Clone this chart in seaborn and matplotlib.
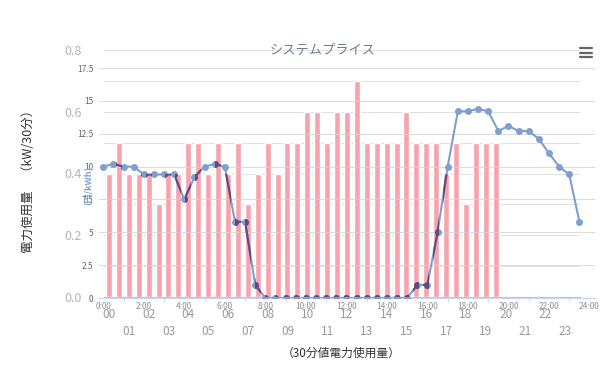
"""
System price vs. 30-min power usage (overlay chart)
"""

import numpy as np
import matplotlib
matplotlib.use("Agg")
import matplotlib.pyplot as plt
from matplotlib.path import Path
from matplotlib.lines import Line2D
import seaborn as sns

sns.set_style("white")
plt.rcParams['font.family'] = ['Noto Sans CJK JP', 'DejaVu Sans']

# Data
# power usage per 30-min slot (kW/30min), slots 0..39 (00:00 - 19:30)
usage_slots = np.arange(40)
usage = [0.4, 0.5, 0.4, 0.4, 0.4, 0.3, 0.4, 0.4, 0.5, 0.5,
         0.4, 0.5, 0.4, 0.5, 0.3, 0.4, 0.5, 0.4, 0.5, 0.5,
         0.6, 0.6, 0.5, 0.6, 0.6, 0.7, 0.5, 0.5, 0.5, 0.5,
         0.6, 0.5, 0.5, 0.5, 0.4, 0.5, 0.3, 0.5, 0.5, 0.5]

# system price (yen/kWh) every 30 min
price_hours = np.arange(48) * 0.5
price = [10.0, 10.2, 10.0, 10.0, 9.4, 9.4, 9.4, 9.4, 7.5, 9.2,
         10.0, 10.2, 10.0, 5.8, 5.8, 1.0, 0.0, 0.0, 0.0, 0.0,
         0.0, 0.0, 0.0, 0.0, 0.0, 0.0, 0.0, 0.0, 0.0, 0.0,
         0.0, 1.0, 1.0, 5.0, 10.0, 14.2, 14.2, 14.4, 14.2, 12.7,
         13.1, 12.7, 12.7, 12.1, 11.0, 10.0, 9.4, 5.8]

hour_labels = [f"{h:02d}" if h % 2 == 0 else f"\n{h:02d}" for h in range(24)]
time_labels = [f"{h}:00" for h in range(0, 25, 2)]
usage_ticks = [0.0, 0.2, 0.4, 0.6, 0.8]
price_ticks = [0, 2.5, 5, 7.5, 10, 12.5, 15, 17.5]
price_tick_labels = ["0", "2.5", "5", "7.5", "10", "12.5", "15", "17.5"]

PINK = "#F7A3AE"
BLUE = "#7F9FCF"
PURPLE = "#644879"

fig = plt.figure(figsize=(6.01, 3.71), dpi=100)

# Bar chart (usage)
ax_bar = fig.add_axes([104 / 601, 74 / 371, 476 / 601, 247 / 371])
sns.barplot(x=usage_slots, y=usage, color=PINK, saturation=1, width=0.6,
            ax=ax_bar, zorder=2)
ax_bar.set_xlim(-0.5, 47.5)
ax_bar.set_ylim(0, 0.8)
ax_bar.set_yticks(usage_ticks)
ax_bar.set_yticklabels([f"{v:.1f}" for v in usage_ticks])
ax_bar.set_yticks(np.arange(0, 0.81, 0.1), minor=True)
ax_bar.yaxis.grid(True, which='both', color='#e2e2e2', linewidth=0.8, zorder=0)
ax_bar.set_axisbelow(True)
ax_bar.set_xticks(range(0, 48, 2))
ax_bar.set_xticklabels(hour_labels)
for lbl in ax_bar.get_xticklabels():
    lbl.set_linespacing(1.35)
ax_bar.tick_params(axis='x', length=0, pad=8, labelsize=8.5, labelcolor='#9a9a9a')
ax_bar.tick_params(axis='y', which='both', length=0, pad=16, labelsize=9,
                   labelcolor='#b5b5b5')
ax_bar.set_xlabel("")
ax_bar.set_ylabel("")
for s in ['top', 'right', 'left']:
    ax_bar.spines[s].set_visible(False)
ax_bar.spines['bottom'].set_color('#c4c4c4')

# Line chart (system price)
ax_line = fig.add_axes([99 / 601, 73 / 371, 496 / 601, 230 / 371])
ax_line.patch.set_alpha(0)
sns.lineplot(x=price_hours, y=price, ax=ax_line, color=BLUE, linewidth=1.5,
             marker='o', markersize=5, markeredgewidth=0, zorder=3)
overlay, = ax_line.plot(price_hours, price, color=PURPLE, linewidth=1.5,
                        marker='o', markersize=5, markeredgewidth=0, zorder=4)
rects = [p.get_path().transformed(p.get_patch_transform()) for p in ax_bar.patches]
overlay.set_clip_path(Path.make_compound_path(*rects), ax_bar.transData)

ax_line.set_xlim(-0.21, 24.27)
ax_line.set_ylim(0, 17.5)
ax_line.set_yticks(price_ticks)
ax_line.set_yticklabels(price_tick_labels)
ax_line.yaxis.grid(True, color='#d4d4d4', linewidth=0.8, alpha=0.8)
ax_line.set_xticks(range(0, 25, 2))
ax_line.set_xticklabels(time_labels)
ax_line.set_xticks(range(0, 25), minor=True)
ax_line.tick_params(axis='x', which='major', length=0, pad=3, labelsize=6,
                    labelcolor='#8f8f8f')
ax_line.tick_params(axis='x', which='minor', length=3, color='#ccd6eb',
                    direction='out', bottom=True)
ax_line.tick_params(axis='y', length=0, pad=4, labelsize=6, labelcolor='#666666')
ax_line.set_xlabel("")
ax_line.set_ylabel("")
for s in ['top', 'right', 'left']:
    ax_line.spines[s].set_visible(False)
ax_line.spines['bottom'].set_color('#ccd6eb')

# Texts
fig.text(323 / 601, 1 - 50 / 371, "システムプライス", ha='center', va='center',
         fontsize=9.5, color='#6f7f8f')
fig.text(28 / 601, 1 - 178 / 371, "電力使用量　（kW/30分）", rotation=90,
         ha='center', va='center', fontsize=9, color='#333333')
fig.text(89 / 601, 1 - 185 / 371, "(円/kWh)", rotation=90, ha='center',
         va='center', fontsize=6.5, color=BLUE, fontweight='bold')
fig.text(341 / 601, 1 - 353 / 371, "（30分値電力使用量）", ha='center',
         va='center', fontsize=8.5, color='#333333')

# menu icon
for yy in (48, 52.5, 57):
    fig.add_artist(Line2D([580 / 601, 592 / 601], [1 - yy / 371] * 2,
                          color='#666666', linewidth=1.6))

plt.savefig("out.png", dpi=100)
plt.close()
